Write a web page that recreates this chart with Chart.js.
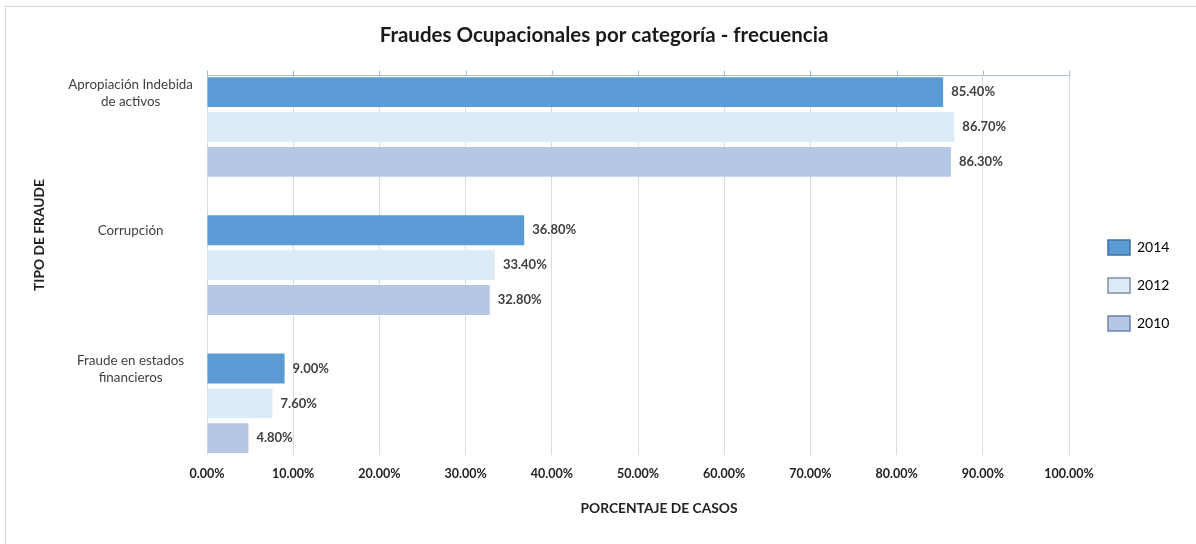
<!DOCTYPE html>
<html><head><meta charset="utf-8">
<script src="https://cdn.jsdelivr.net/npm/chart.js@4.4.0/dist/chart.umd.min.js"></script>
<style>html,body{margin:0;padding:0;background:#fff;overflow:hidden}canvas{display:block}</style>
</head><body>
<canvas id="c" width="1196" height="544"></canvas>
<script>
// ---- data ----
const categories = [["Apropiación Indebida", "de activos"], "Corrupción", ["Fraude en estados", "financieros"]];
const seriesNames = ["2014", "2012", "2010"];
const values2014 = [85.4, 36.8, 9.0];
const values2012 = [86.7, 33.4, 7.6];
const values2010 = [86.3, 32.8, 4.8];
const xTickValues = [0, 10, 20, 30, 40, 50, 60, 70, 80, 90, 100];
const chartTitle = "Fraudes Ocupacionales por categoría - frecuencia";
const xTitle = "PORCENTAJE DE CASOS";
const yTitle = "TIPO DE FRAUDE";

// ---- styles ----
const FONT = 'Lato, "Noto Sans", sans-serif';
const fills = ["#5b9bd5", "#ddebf7", "#b4c7e7"];
const strokes = ["#41719c", "#7f8fa6", "#6c83ad"];

const toPoints = vals => vals.map((v, i) => ({ x: v, y: i }));
const seriesValues = [values2014, values2012, values2010];

const datasets = seriesNames.map((name, i) => ({
  label: name,
  data: toPoints(seriesValues[i]),
  backgroundColor: fills[i],
  borderWidth: 0,
  categoryPercentage: 0.757,
  barPercentage: 0.856
}));

const framePlugin = {
  id: 'frame',
  beforeDraw(chart) {
    const ctx = chart.ctx;
    ctx.save();
    ctx.fillStyle = '#ffffff';
    ctx.fillRect(0, 0, chart.width, chart.height);
    ctx.strokeStyle = '#d6d6d6';
    ctx.lineWidth = 1;
    ctx.strokeRect(5.5, 6.5, chart.width + 20, chart.height + 20);
    ctx.restore();
  }
};

const topAxisPlugin = {
  id: 'topAxis',
  afterDatasetsDraw(chart) {
    const { ctx, chartArea, scales: { x } } = chart;
    const y0 = Math.round(chartArea.top) + 0.5;
    ctx.save();
    ctx.strokeStyle = '#a9bfd9';
    ctx.lineWidth = 1;
    ctx.beginPath();
    ctx.moveTo(x.getPixelForValue(xTickValues[0]), y0);
    ctx.lineTo(x.getPixelForValue(xTickValues[xTickValues.length - 1]), y0);
    xTickValues.forEach(v => {
      const px = Math.round(x.getPixelForValue(v)) + 0.5;
      ctx.moveTo(px, y0);
      ctx.lineTo(px, y0 - 5);
    });
    ctx.stroke();
    ctx.restore();
  }
};

const dataLabelPlugin = {
  id: 'dataLabels',
  afterDatasetsDraw(chart) {
    const ctx = chart.ctx;
    ctx.save();
    ctx.font = 'bold 13px ' + FONT;
    ctx.fillStyle = '#404040';
    ctx.textBaseline = 'middle';
    ctx.textAlign = 'left';
    chart.data.datasets.forEach((ds, i) => {
      chart.getDatasetMeta(i).data.forEach((el, j) => {
        ctx.fillText(ds.data[j].x.toFixed(2) + '%', el.x + 8, el.y);
      });
    });
    ctx.restore();
  }
};

const axisTitlePlugin = {
  id: 'axisTitles',
  afterDraw(chart) {
    const ctx = chart.ctx;
    ctx.save();
    ctx.font = 'bold 13.8px ' + FONT;
    ctx.fillStyle = '#222222';
    ctx.textAlign = 'center';
    ctx.textBaseline = 'middle';
    ctx.fillText(xTitle, 659, 509);
    ctx.translate(40, 235);
    ctx.rotate(-Math.PI / 2);
    ctx.fillText(yTitle, 0, 0);
    ctx.restore();
  }
};

const legendMovePlugin = {
  id: 'legendMove',
  afterLayout(chart) {
    const lg = chart.legend;
    if (!lg) return;
    const w = lg.width;
    lg.left = 1085;
    lg.right = 1085 + w;
    lg.top += 13.5;
    lg.bottom += 13.5;
  }
};

new Chart(document.getElementById('c'), {
  type: 'bar',
  data: { datasets },
  options: {
    indexAxis: 'y',
    responsive: false,
    animation: false,
    devicePixelRatio: 1,
    layout: { padding: { left: 12, right: 0, top: 0, bottom: 0 } },
    scales: {
      x: {
        type: 'linear',
        position: 'bottom',
        min: 0,
        max: 100,
        afterBuildTicks(scale) { scale.ticks = xTickValues.map(v => ({ value: v })); },
        afterFit(scale) { scale.paddingRight = 127; scale.height = 89; },
        grid: { color: '#dcdcdc', drawTicks: false, lineWidth: 1 },
        border: { display: false },
        ticks: {
          padding: 11,
          color: '#222222',
          font: { family: FONT, size: 12.5, weight: 'bold' },
          callback: v => Number(v).toFixed(2) + '%',
          maxRotation: 0
        }
      },
      y: {
        type: 'linear',
        position: 'left',
        reverse: true,
        offset: false,
        min: -0.376,
        max: 2.374,
        afterBuildTicks(scale) { scale.ticks = categories.map((c, i) => ({ value: i })); },
        afterFit(scale) { scale.width = 195; },
        grid: { display: false, drawTicks: false, offset: false },
        border: { display: false },
        ticks: {
          padding: 14,
          crossAlign: 'center',
          labelOffset: -34,
          color: '#404040',
          font: { family: FONT, size: 13.4, lineHeight: 1.27 },
          callback: v => categories[v]
        }
      }
    },
    plugins: {
      title: {
        display: true,
        text: chartTitle,
        color: '#1a1a1a',
        font: { family: FONT, size: 20.5, weight: 'bold', lineHeight: 1.2 },
        padding: { top: 23, bottom: 27.4 }
      },
      legend: {
        display: true,
        position: 'right',
        labels: {
          boxWidth: 22,
          boxHeight: 15,
          padding: 23,
          color: '#404040',
          font: { family: FONT, size: 14 },
          generateLabels(chart) {
            return chart.data.datasets.map((ds, i) => ({
              text: ds.label,
              fillStyle: fills[i],
              strokeStyle: strokes[i],
              lineWidth: 1.5,
              hidden: false,
              datasetIndex: i
            }));
          }
        }
      },
      tooltip: { enabled: false }
    }
  },
  plugins: [framePlugin, topAxisPlugin, dataLabelPlugin, axisTitlePlugin, legendMovePlugin]
});
</script>
</body></html>
